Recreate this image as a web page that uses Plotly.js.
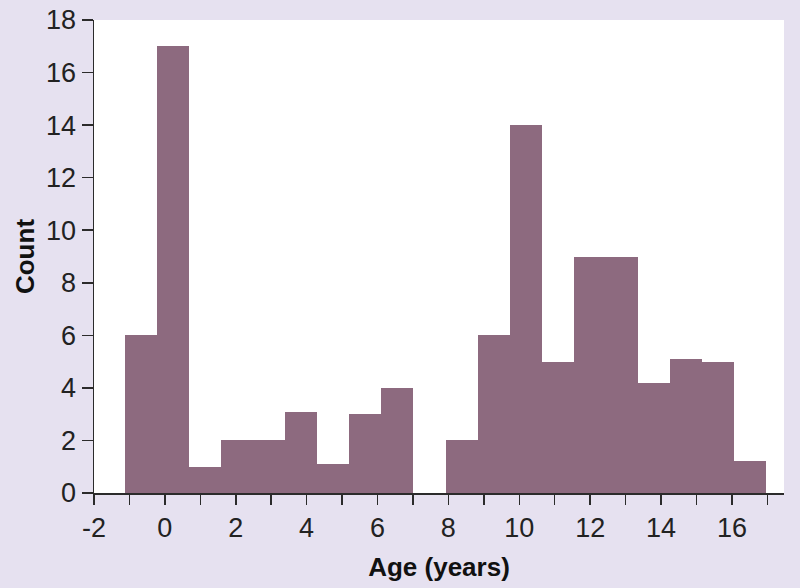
<!DOCTYPE html>
<html>
<head>
<meta charset="utf-8">
<script src="https://cdn.plot.ly/plotly-3.0.1.min.js"></script>
<style>
  html, body { margin: 0; padding: 0; background: #e6e1f0; }
  #chart { width: 800px; height: 588px; }
</style>
</head>
<body>
<div id="chart"></div>
<script>
// histogram bins
const binStart = -1.13;
const binWidth = 0.905;
const counts = [6, 17, 1, 2, 2, 3.1, 1.1, 3, 4, 0, 2, 6, 14, 5, 9, 9, 4.2, 5.1, 5, 1.2];

const xTicks = [-2, 0, 2, 4, 6, 8, 10, 12, 14, 16];
const yTicks = [0, 2, 4, 6, 8, 10, 12, 14, 16, 18];

const barColor = '#8d6a7f';
const bgColor = '#e6e1f0';
const axisColor = '#2b2b2b';
const font = 'Liberation Sans, Arial, sans-serif';

let centers = counts.map((c, i) => binStart + (i + 0.5) * binWidth);

let trace = {
    type: 'bar',
    x: centers,
    y: counts,
    width: binWidth,
    marker: { color: barColor, line: { width: 0 } },
    hoverinfo: 'x+y',
};

let layout = {
    width: 800,
    height: 588,
    paper_bgcolor: bgColor,
    plot_bgcolor: '#ffffff',
    showlegend: false,
    bargap: 0,
    margin: { l: 94, r: 16, t: 20, b: 95 },
    font: { family: font, color: '#222222', size: 27 },
    xaxis: {
        range: [-2, 17.47],
        tickvals: xTicks,
        ticktext: xTicks.map(String),
        ticks: 'outside',
        ticklen: 10,
        tickwidth: 1.5,
        tickcolor: axisColor,
        showline: true,
        linecolor: axisColor,
        linewidth: 1.5,
        showgrid: false,
        zeroline: false,
        minor: { dtick: 1, tick0: 0, ticks: 'outside', ticklen: 10, tickwidth: 1.5, tickcolor: axisColor, showgrid: false },
        tickfont: { size: 27 },
        title: { text: '<b>Age (years)</b>', font: { size: 26, color: '#111111' }, standoff: 16 },
    },
    yaxis: {
        range: [0, 18],
        tickvals: yTicks,
        ticks: 'outside',
        ticklen: 11,
        tickwidth: 1.5,
        tickcolor: axisColor,
        showline: true,
        linecolor: axisColor,
        linewidth: 1.5,
        showgrid: false,
        zeroline: false,
        tickfont: { size: 27 },
        title: { text: '<b>Count</b>', font: { size: 26, color: '#111111' }, standoff: 4 },
    },
};

Plotly.newPlot('chart', [trace], layout, { displayModeBar: false, staticPlot: true });
</script>
</body>
</html>
